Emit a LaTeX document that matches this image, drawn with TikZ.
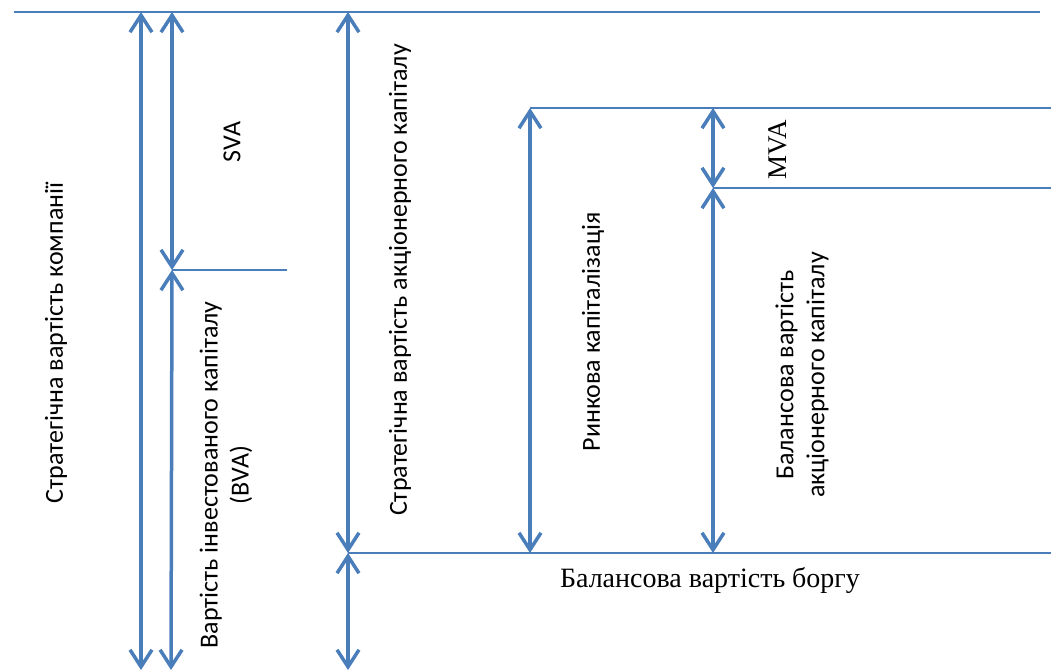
\documentclass[tikz,border=0pt]{standalone}
\usepackage{fontspec}
\setmainfont{Carlito}
\newfontfamily\serifcyr{Liberation Serif}
\usetikzlibrary{arrows.meta}
\definecolor{lineblue}{HTML}{4A7EBB}
\tikzset{
  barb/.tip={Straight Barb[length=17pt,width=22pt,line width=3.5pt]},
  dimarrow/.style={draw=lineblue, line width=3.5pt, barb-barb},
  levelline/.style={draw=lineblue, line width=2pt},
  vlabel/.style={rotate=90, font=\fontsize{26}{31}\selectfont, align=center, inner sep=0pt},
  slabel/.style={font=\serifcyr\fontsize{28}{32}\selectfont, inner sep=0pt}
}
\begin{document}
\begin{tikzpicture}[x=1pt,y=-1pt]
\useasboundingbox (0,0) rectangle (1051,671);
% level coordinates
\coordinate (topL) at (14,12);
\coordinate (topR) at (1040,12);
\coordinate (mkL) at (530,108);
\coordinate (mkR) at (1051,108);
\coordinate (bvL) at (713,188);
\coordinate (bvR) at (1051,188);
\coordinate (svL) at (172,270);
\coordinate (svR) at (287,270);
\coordinate (dbL) at (348,553);
\coordinate (dbR) at (1051,553);
% arrow endpoints
\coordinate (a1t) at (141,12);
\coordinate (a1b) at (141,670);
\coordinate (a2t) at (172,12);
\coordinate (a2b) at (171,670);
\coordinate (a3t) at (348,12);
\coordinate (a3b) at (348,670);
\coordinate (a4b) at (530,553);
\coordinate (a5b) at (713,553);
\coordinate (a5t) at (713,108);
% horizontal lines
\draw[levelline] (topL) -- (topR);
\draw[levelline] (mkL) -- (mkR);
\draw[levelline] (bvL) -- (bvR);
\draw[levelline] (svL) -- (svR);
\draw[levelline] (dbL) -- (dbR);
% arrows
\draw[dimarrow] (a1t) -- (a1b);
\draw[dimarrow] (a2t) -- (svL);
\draw[dimarrow] (svL) -- (a2b);
\draw[dimarrow] (a3t) -- (dbL);
\draw[dimarrow] (dbL) -- (a3b);
\draw[dimarrow] (mkL) -- (a4b);
\draw[dimarrow] (a5t) -- (bvL);
\draw[dimarrow] (bvL) -- (a5b);
% labels
\node[vlabel] (l1) at (56,343) {Стратегічна вартість компанії};
\node[vlabel] (l2) at (232,142) {SVA};
\node[vlabel] (l3) at (226,475) {Вартість інвестованого капіталу\\(BVA)};
\node[vlabel] (l4) at (400,280) {Стратегічна вартість акціонерного капіталу};
\node[vlabel] (l5) at (593,332) {Ринкова капіталізація};
\node[slabel, rotate=90, font=\serifcyr\fontsize{27}{32}\selectfont] (l6) at (778,150) {MVA};
\node[vlabel] (l7) at (802,375) {Балансова вартість\\акціонерного капіталу};
\node[slabel] (l8) at (710,580) {Балансова вартість боргу};
\end{tikzpicture}
\end{document}
